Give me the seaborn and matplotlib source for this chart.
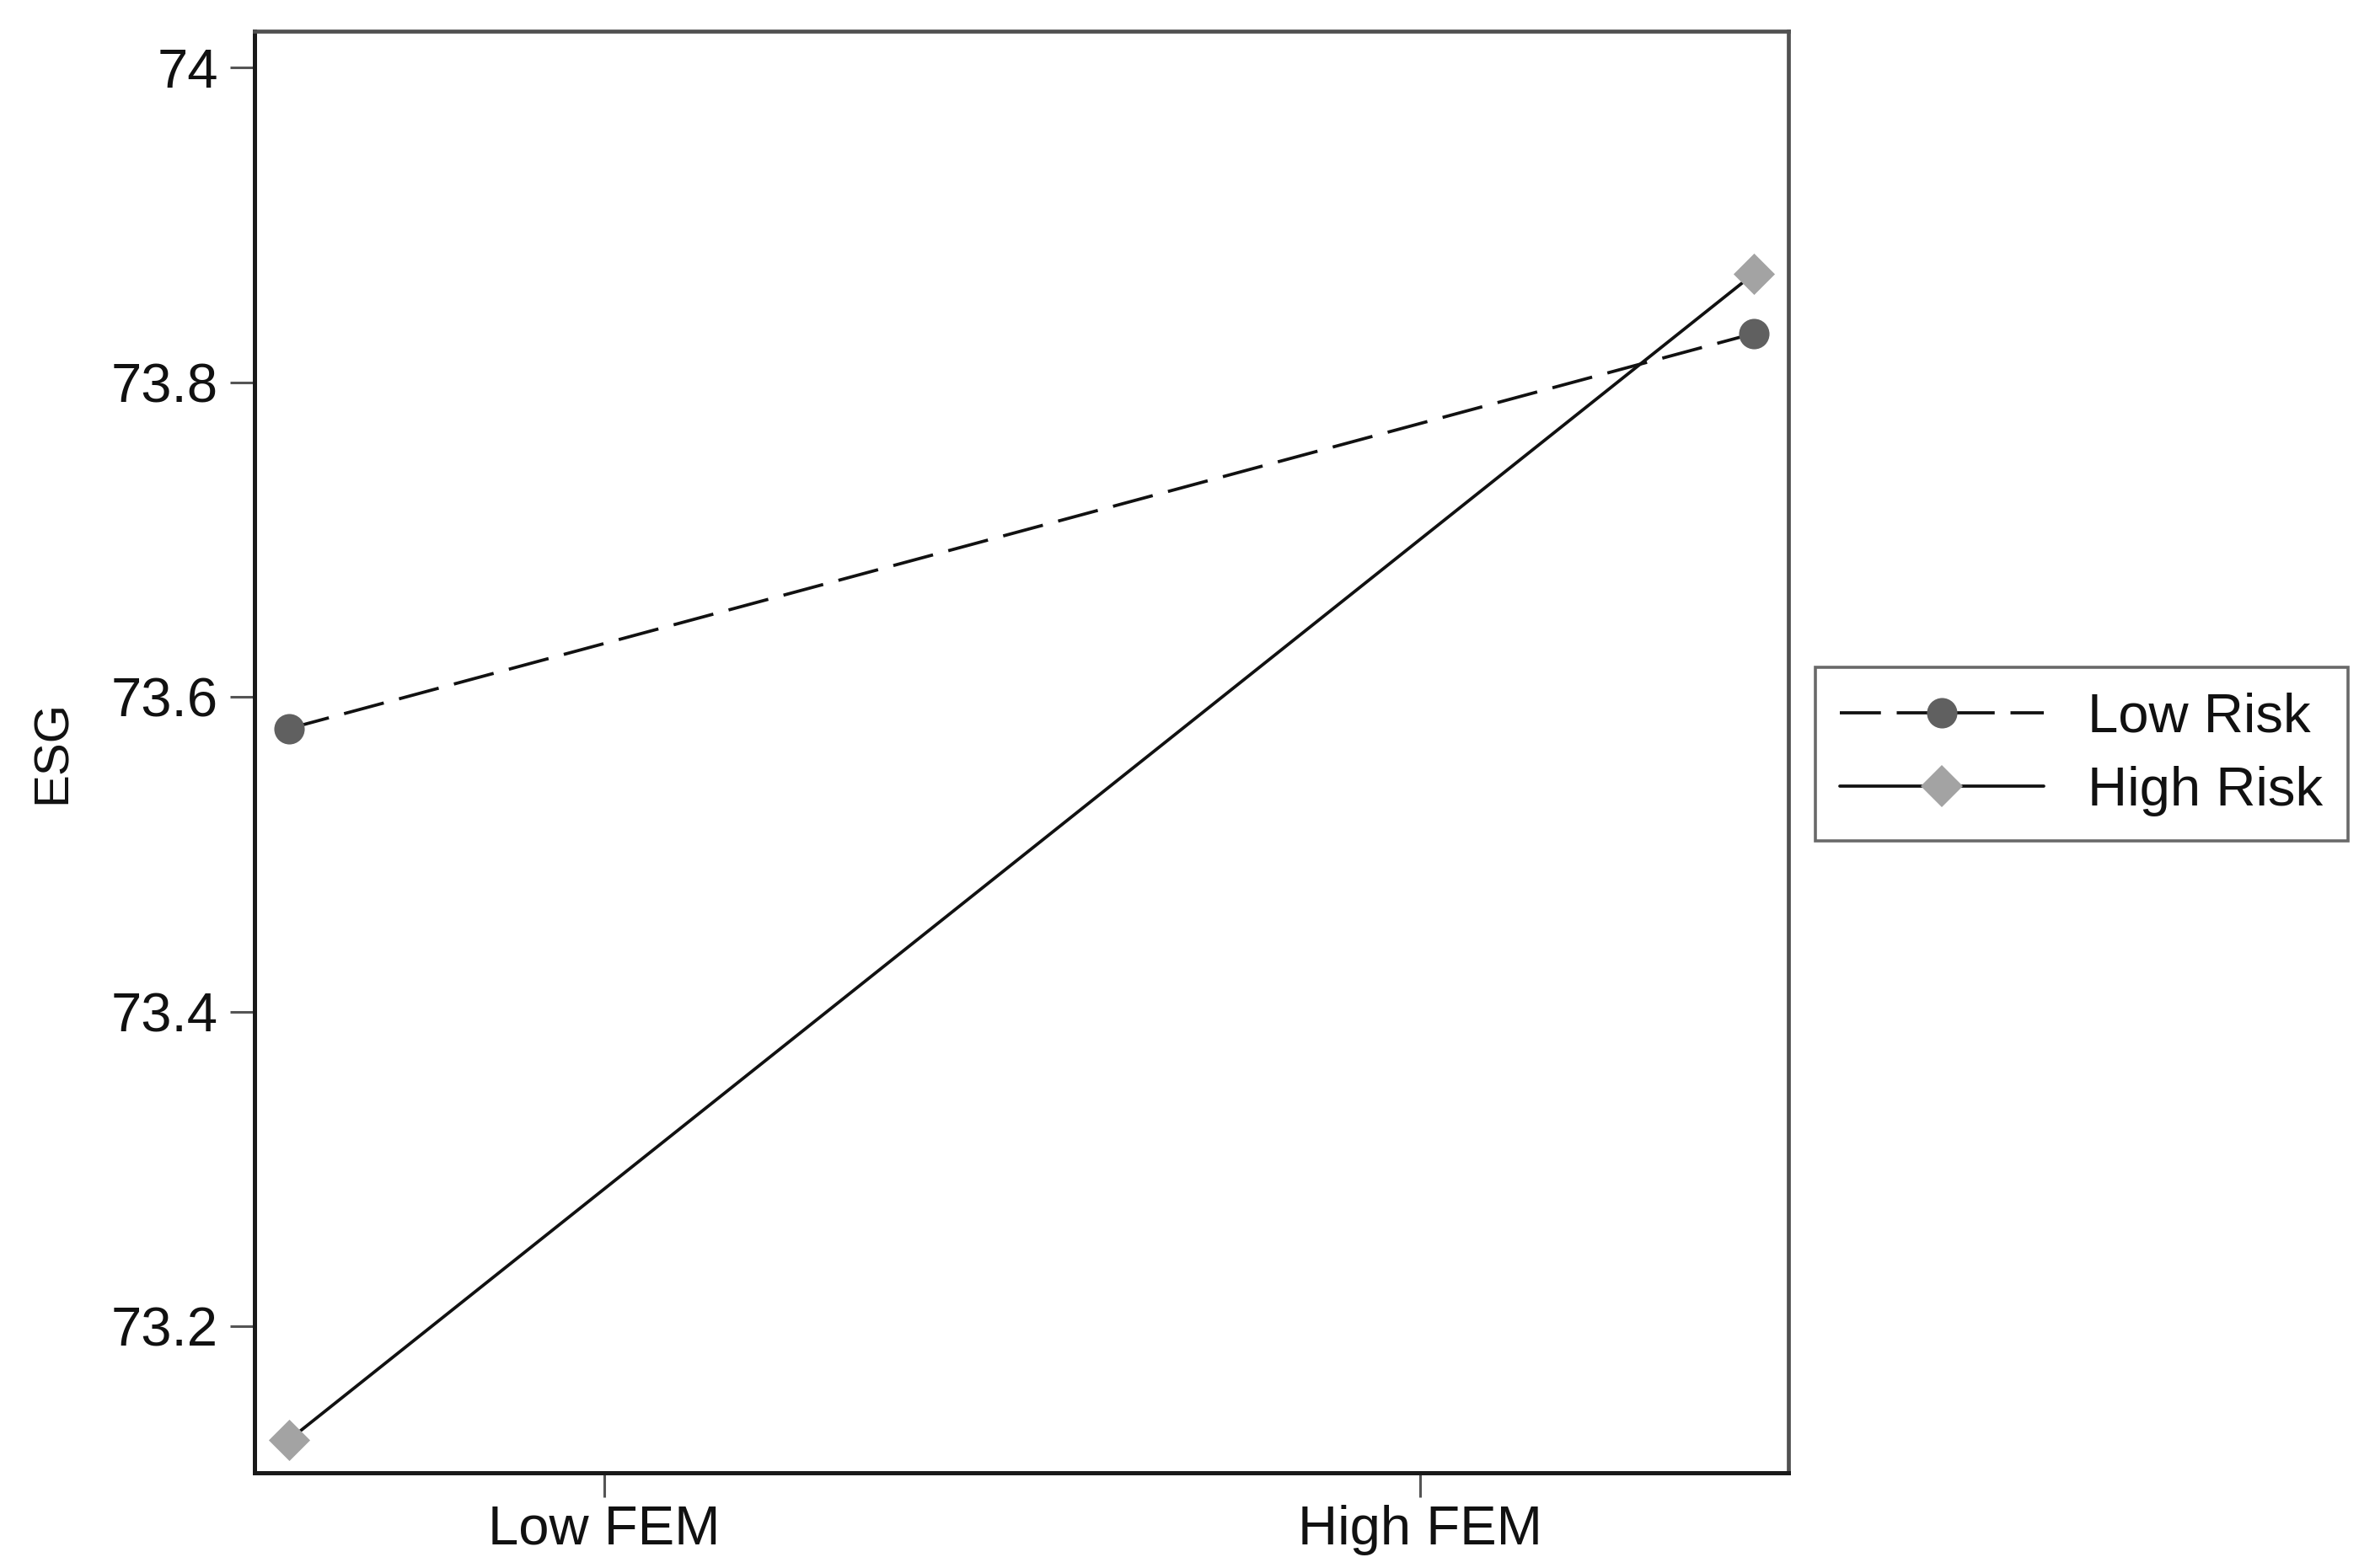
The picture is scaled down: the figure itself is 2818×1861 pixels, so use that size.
import matplotlib
matplotlib.use("Agg")
import matplotlib.pyplot as plt
from matplotlib.lines import Line2D
import seaborn as sns
import pandas as pd

# values
fem_pos = [0.0, 1.0]                 # x positions of the two FEM levels
fem_tick_pos = [0.215, 0.772]        # where the axis labels sit
fem_tick_labels = ["Low FEM", "High FEM"]
risk_groups = ["Low Risk", "High Risk"]
esg_low_risk = [73.580, 73.831]
esg_high_risk = [73.128, 73.869]
y_ticks = [73.2, 73.4, 73.6, 73.8, 74.0]
y_tick_labels = ["73.2", "73.4", "73.6", "73.8", "74"]

df = pd.DataFrame({
    "FEM": fem_pos * 2,
    "ESG": esg_low_risk + esg_high_risk,
    "Risk": [risk_groups[0]] * 2 + [risk_groups[1]] * 2,
})

sns.set_style("white")
plt.rcParams["font.family"] = ["Liberation Sans", "DejaVu Sans"]
plt.rcParams["text.color"] = "#111111"
plt.rcParams["axes.labelcolor"] = "#111111"
plt.rcParams["xtick.color"] = "#111111"
plt.rcParams["ytick.color"] = "#111111"

marker_cols = {"Low Risk": "#606060", "High Risk": "#a3a3a3"}
marker_shapes = {"Low Risk": "o", "High Risk": "D"}
dash_styles = {"Low Risk": (13, 5), "High Risk": ""}
lw = 2.7

fig = plt.figure(figsize=(28.18, 18.61), dpi=100)
ax = fig.add_axes([0.1072, 0.0607, 0.6458, 0.9193])

# lines (black) then markers (grey) on top
sns.lineplot(data=df, x="FEM", y="ESG", hue="Risk", style="Risk",
             palette={"Low Risk": "#111111", "High Risk": "#111111"},
             dashes=dash_styles, linewidth=lw, legend=False, ax=ax)
for r in risk_groups:
    sub = df[df["Risk"] == r]
    sns.scatterplot(data=sub, x="FEM", y="ESG", marker=marker_shapes[r],
                    color=marker_cols[r], s=26 ** 2 if r == "Low Risk" else 25 ** 2,
                    linewidth=0, legend=False, ax=ax, zorder=3)

ax.set_xlim(-0.0236, 1.0236)
ax.set_ylim(73.107, 74.023)
ax.set_xticks(fem_tick_pos)
ax.set_xticklabels(fem_tick_labels)
ax.set_yticks(y_ticks)
ax.set_yticklabels(y_tick_labels)
ax.set_xlabel("")
ax.set_ylabel("ESG", fontsize=42, labelpad=30)

ax.tick_params(axis="both", which="major", bottom=True, left=True,
               labelsize=47, length=21, width=2.2, color="#555555",
               labelcolor="#111111", direction="out")
ax.tick_params(axis="y", pad=10)
ax.tick_params(axis="x", pad=6)

for side in ["left", "bottom"]:
    ax.spines[side].set_color("#1a1a1a")
    ax.spines[side].set_linewidth(3.6)
for side in ["top", "right"]:
    ax.spines[side].set_color("#505050")
    ax.spines[side].set_linewidth(3.4)

handles = [
    Line2D([], [], color="#111111", linewidth=lw, dashes=(13, 5),
           marker="o", markersize=26, markerfacecolor=marker_cols["Low Risk"],
           markeredgewidth=0),
    Line2D([], [], color="#111111", linewidth=lw,
           marker="D", markersize=25, markerfacecolor=marker_cols["High Risk"],
           markeredgewidth=0),
]
leg = fig.legend(handles, risk_groups, loc="center left",
                 bbox_to_anchor=(0.7528, 0.519), fontsize=47, frameon=True,
                 fancybox=False, handlelength=3.7, handletextpad=0.8,
                 labelspacing=0.42, borderpad=0.45)
leg.get_frame().set_edgecolor("#444444")
leg.get_frame().set_linewidth(2.6)

fig.savefig("out.png", dpi=100)
